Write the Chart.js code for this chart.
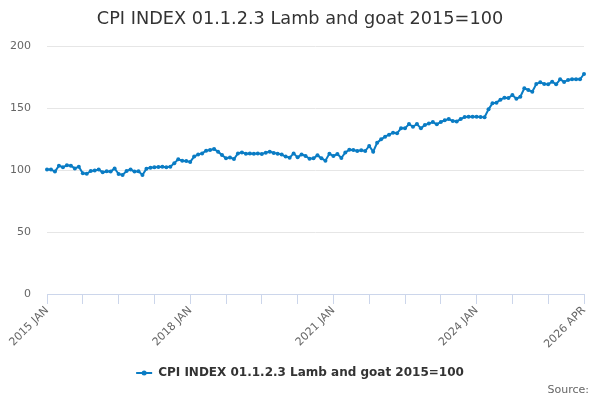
<!DOCTYPE html>
<html><head><meta charset="utf-8">
<script src="https://cdn.jsdelivr.net/npm/chart.js@4.4.1/dist/chart.umd.min.js"></script>
<style>html,body{margin:0;padding:0;background:#fff}#wrap{position:relative;width:600px;height:400px}</style>
</head><body><div id="wrap"><canvas id="c" width="600" height="400"></canvas></div>
<script>
const seriesName = 'CPI INDEX 01.1.2.3 Lamb and goat 2015=100';
const titleText = 'CPI INDEX 01.1.2.3 Lamb and goat 2015=100';
const sourceText = 'Source:';
const years = [2015,2016,2017,2018,2019,2020,2021,2022,2023,2024,2025,2026];
const monthNames = ['JAN','FEB','MAR','APR','MAY','JUN','JUL','AUG','SEP','OCT','NOV','DEC'];
const lastLabel = '2026 APR';
const categories = [];
for (const y of years) { for (const m of monthNames) { if (categories[categories.length-1] === lastLabel) break; categories.push(y + ' ' + m); } }
const values = [
100.5,100.5,98.7,103.5,102.2,103.8,103.5,101.3,102.7,97.3,97.0,99.2,
99.5,100.5,98.1,98.9,98.7,101.3,96.8,96.0,99.2,100.5,98.7,98.9,
96.0,101.1,101.9,102.2,102.4,102.7,102.2,102.7,105.4,108.6,107.5,107.3,
106.5,110.8,112.6,113.4,115.6,116.1,116.9,114.8,112.0,109.5,110.0,108.9,
113.4,114.2,113.2,113.4,113.2,113.4,112.9,114.0,114.8,113.7,113.2,112.4,
110.8,109.9,113.4,110.2,112.6,111.3,109.1,109.4,111.8,109.4,107.5,113.2,
111.3,112.9,109.7,114.2,116.4,116.1,115.3,115.9,115.3,119.4,114.8,122.0,
124.7,126.9,128.5,130.1,129.6,133.6,133.6,137.1,134.9,137.1,133.6,136.3,
137.4,138.7,136.8,138.7,140.1,141.1,139.5,139.2,141.1,142.7,143.0,143.0,
143.0,142.7,142.5,148.9,153.8,154.3,156.7,158.3,158.1,160.5,157.5,159.1,
165.9,164.5,163.2,169.4,170.7,169.4,169.1,171.2,169.1,173.1,171.0,172.6,
173.1,173.1,173.1,177.4
];
const yTicks = [0,50,100,150,200];
const lineColor = '#0a7cc4';
const FONT = "'DejaVu Sans', sans-serif";

const textsPlugin = {
  id: 'textsPlugin',
  afterDraw(chart) {
    const ctx = chart.ctx;
    ctx.save();
    // title
    ctx.font = '17.7px ' + FONT;
    ctx.fillStyle = '#333333'; ctx.textBaseline = 'middle'; ctx.textAlign = 'center';
    ctx.fillText(titleText, 300, 19.5);
    // legend
    ctx.font = 'bold 12px ' + FONT;
    const tw = ctx.measureText(seriesName).width;
    const total = 16 + 6 + tw;
    const x0 = 300 - total / 2;
    const ly = 373;
    ctx.strokeStyle = lineColor; ctx.lineWidth = 2;
    ctx.beginPath(); ctx.moveTo(x0, ly); ctx.lineTo(x0 + 16, ly); ctx.stroke();
    ctx.fillStyle = lineColor;
    ctx.beginPath(); ctx.arc(x0 + 8, ly, 2.5, 0, Math.PI * 2); ctx.fill();
    ctx.fillStyle = '#333333'; ctx.textAlign = 'left';
    ctx.fillText(seriesName, x0 + 22, ly);
    // source
    ctx.font = '11px ' + FONT; ctx.fillStyle = '#666666'; ctx.textAlign = 'right';
    ctx.fillText(sourceText, 589, 390);
    ctx.restore();
  }
};

new Chart(document.getElementById('c'), {
  type: 'line',
  data: { labels: categories, datasets: [{
    label: seriesName, data: values, borderColor: lineColor, backgroundColor: lineColor,
    borderWidth: 2, pointRadius: 2, pointBorderWidth: 0, pointBackgroundColor: lineColor, tension: 0
  }]},
  options: {
    responsive: false, animation: false,
    layout: { padding: { top: 46, left: 0, right: 16, bottom: 46 } },
    plugins: {
      legend: { display: false }, tooltip: { enabled: false }, title: { display: false }
    },
    scales: {
      x: {
        type: 'category', offset: false,
        afterFit(s) { s.height = 60; },
        border: { display: true, color: '#ccd6eb', width: 1 },
        grid: { display: true, drawOnChartArea: false, drawTicks: true, tickLength: 10, color: '#ccd6eb' },
        ticks: {
          autoSkip: false, minRotation: 45, maxRotation: 45, padding: 0,
          color: '#666666', font: { family: FONT, size: 11 },
          callback(value, index) {
            if (index % 9 !== 0) return null;
            return (index % 36 === 0 || index === categories.length - 1) ? categories[index] : '';
          }
        }
      },
      y: {
        min: 0, max: 200,
        afterFit(s) { s.width = 47; },
        afterBuildTicks(s) { s.ticks = yTicks.map(v => ({ value: v })); },
        border: { display: false },
        grid: { color: '#e6e6e6', drawTicks: false },
        ticks: { padding: 16, color: '#666666', font: { family: FONT, size: 11 } }
      }
    }
  },
  plugins: [textsPlugin]
});
</script>
</body></html>
